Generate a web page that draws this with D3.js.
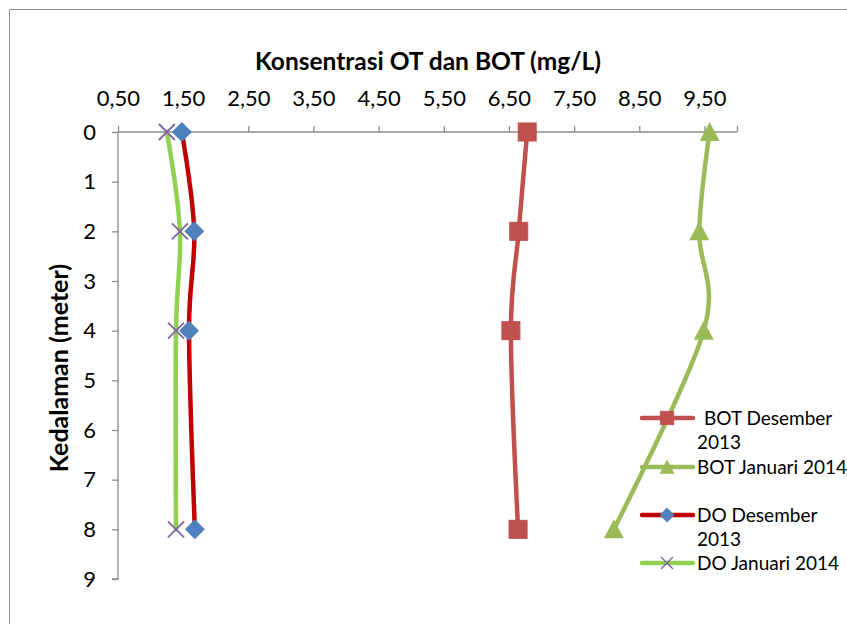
<!DOCTYPE html>
<html>
<head>
<meta charset="utf-8">
<script src="https://cdn.jsdelivr.net/npm/d3@7"></script>
<style>
  html, body { margin: 0; padding: 0; background: #fff; }
  svg { display: block; font-family: Lato, "Open Sans", sans-serif; }
</style>
</head>
<body>
<svg id="chart" width="847" height="624"></svg>
<script>
// Depths (m) along the vertical axis
const depths = [0, 2, 4, 8];

// Concentrations (mg/L) per series
const botDesember2013 = [6.78, 6.65, 6.53, 6.64];
const botJanuari2014 = [9.58, 9.42, 9.49, 8.11];
const doDesember2013 = [1.48, 1.67, 1.59, 1.68];
const doJanuari2014 = [1.25, 1.45, 1.39, 1.39];

// Axis ticks
const xTicks = [0.5, 1.5, 2.5, 3.5, 4.5, 5.5, 6.5, 7.5, 8.5, 9.5];
const yTicks = [0, 1, 2, 3, 4, 5, 6, 7, 8, 9];

const seriesNames = ["BOT Desember\n2013", "BOT Januari 2014", "DO Desember\n2013", "DO Januari 2014"];
const seriesValues = [botDesember2013, botJanuari2014, doDesember2013, doJanuari2014];
const lineColors = ["#C0504D", "#9BBB59", "#C00000", "#92D050"];
const markerKinds = ["square", "triangle", "diamond", "cross"];

const svg = d3.select("#chart");

// Chart frame
svg.append("path")
  .attr("d", "M9.5,624 V9.5 H847")
  .attr("fill", "none").attr("stroke", "#8c8c8c").attr("stroke-width", 1);

const x = d3.scaleLinear().domain([0.5, 10]).range([118, 737]);
const y = d3.scaleLinear().domain([0, 9]).range([132, 579]);

// Top (value) axis along depth 0
const xAxis = svg.append("g").attr("transform", `translate(0,${y(0)})`)
  .call(d3.axisTop(x).tickValues(xTicks.concat([10]))
    .tickSize(6).tickPadding(20)
    .tickFormat(d => d === 10 ? "" : d3.format(".2f")(d).replace(".", ",")));
xAxis.select(".domain").attr("d", `M${x(0.5)},0H${x(10)}`);

// Depth axis
const yAxis = svg.append("g").attr("transform", `translate(${x(0.5)},0)`)
  .call(d3.axisLeft(y).tickValues(yTicks).tickSize(6).tickPadding(16).tickFormat(d3.format("d")));
yAxis.select(".domain").attr("d", `M0,${y(0)}V${y(9)}H-6`);

svg.selectAll(".tick line, .domain").attr("stroke", "#8c8c8c").attr("stroke-width", 1.3);
svg.selectAll(".tick text").attr("font-size", 22).attr("fill", "#000")
  .attr("font-family", "Lato, sans-serif");

// Titles
svg.append("text").attr("x", 428).attr("y", 70).attr("text-anchor", "middle")
  .attr("font-size", 24.5).attr("font-weight", "bold").text("Konsentrasi OT dan BOT (mg/L)");
svg.append("text").attr("transform", "translate(68,368) rotate(-90)").attr("text-anchor", "middle")
  .attr("font-size", 25).attr("font-weight", "bold").text("Kedalaman (meter)");

const line = d3.line().x(d => x(d[0])).y(d => y(d[1])).curve(d3.curveCatmullRom.alpha(0));

function drawMarker(g, kind, cx, cy) {
  if (kind === "square") {
    g.append("rect").attr("x", cx - 9).attr("y", cy - 9).attr("width", 18).attr("height", 18)
      .attr("fill", "#C0504D").attr("stroke", "#C0504D").attr("stroke-width", 1);
  } else if (kind === "triangle") {
    g.append("path").attr("d", `M${cx},${cy - 10}L${cx + 10},${cy + 9}L${cx - 10},${cy + 9}Z`)
      .attr("fill", "#9BBB59");
  } else if (kind === "diamond") {
    g.append("path").attr("d", `M${cx},${cy - 10}L${cx + 10},${cy}L${cx},${cy + 10}L${cx - 10},${cy}Z`)
      .attr("fill", "#4F81BD");
  } else {
    g.append("path").attr("d", `M${cx - 8},${cy - 8}L${cx + 8},${cy + 8}M${cx + 8},${cy - 8}L${cx - 8},${cy + 8}`)
      .attr("stroke", "#8064A2").attr("stroke-width", 1.8).attr("fill", "none");
  }
}

const plot = svg.append("g");
seriesValues.forEach((vals, i) => {
  const pts = vals.map((v, k) => [v, depths[k]]);
  plot.append("path").attr("d", line(pts)).attr("fill", "none")
    .attr("stroke", lineColors[i]).attr("stroke-width", 4.5).attr("stroke-linecap", "round");
});
seriesValues.forEach((vals, i) => {
  const g = plot.append("g");
  vals.forEach((v, k) => drawMarker(g, markerKinds[i], x(v), y(depths[k])));
});

// Legend
const legendRows = [418, 467, 515, 563];
const legend = svg.append("g");
seriesNames.forEach((name, i) => {
  const ly = legendRows[i];
  legend.append("line").attr("x1", 642).attr("x2", 693).attr("y1", ly).attr("y2", ly)
    .attr("stroke", lineColors[i]).attr("stroke-width", 4.5).attr("stroke-linecap", "round");
  const g = legend.append("g");
  const s = 0.75;
  g.attr("transform", `translate(667,${ly}) scale(${s}) translate(-667,${-ly})`);
  drawMarker(g, markerKinds[i], 667, ly);
  const t = legend.append("text").attr("font-size", 19).attr("fill", "#000");
  name.split("\n").forEach((part, j) => {
    t.append("tspan").attr("x", j === 0 && part.startsWith("BOT D") ? 704 : 697)
      .attr("y", ly + 7 + j * 24).text(part);
  });
});
</script>
</body>
</html>
